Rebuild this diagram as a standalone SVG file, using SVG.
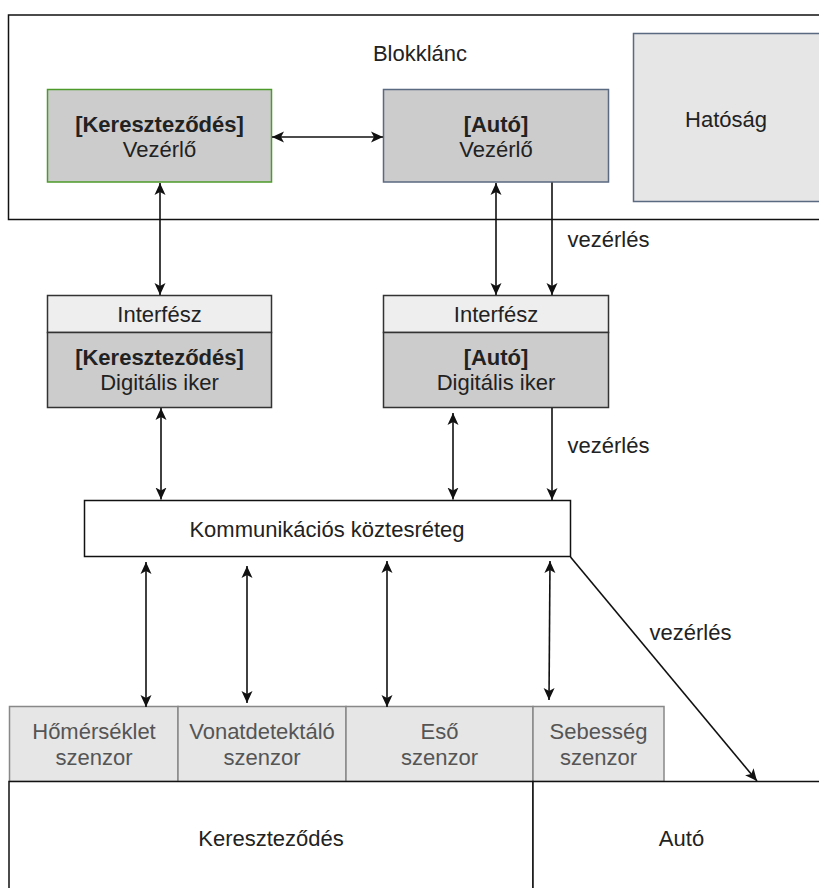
<svg xmlns="http://www.w3.org/2000/svg" width="819" height="888" viewBox="0 0 819 888">
  <style>
    text { font-family: "Liberation Sans", Arial, Helvetica, sans-serif; font-size: 22px; fill: #222222; text-anchor: middle; }
    .bold { font-weight: bold; }
    .sensor text { fill: #555555; }
    .frame { fill: #ffffff; stroke: #111111; stroke-width: 1.5; }
    .ctrl { fill: #cccccc; stroke-width: 1.5; }
    .iface { fill: #eeeeee; stroke: #333333; stroke-width: 1.5; }
    .twin { fill: #cccccc; stroke: #333333; stroke-width: 1.5; }
    .sensor rect { fill: #e6e6e6; stroke: #888888; stroke-width: 1.5; }
    .conn line { stroke: #111111; stroke-width: 1.6; fill: none; }
    .bi { marker-start: url(#arrow); marker-end: url(#arrow); }
    .uni { marker-end: url(#arrow); }
  </style>
  <defs>
    <marker id="arrow" viewBox="0 0 12 12" refX="12" refY="6" markerWidth="12" markerHeight="12" markerUnits="userSpaceOnUse" orient="auto-start-reverse">
      <path d="M0,0.5 L12,6 L0,11.5 L3,6 z" fill="#111111"/>
    </marker>
  </defs>

  <rect width="819" height="888" fill="#ffffff"/>

  <!-- blockchain layer -->
  <g id="blokklanc">
    <rect class="frame" x="8.5" y="15" width="830" height="204.5"/>
    <text x="420" y="61">Blokklánc</text>
  </g>

  <g id="kereszt-vezerlo">
    <rect class="ctrl" x="47.5" y="89.5" width="224" height="92.5" stroke="#4d9a2a"/>
    <text class="bold" x="159.5" y="132">[Kereszteződés]</text>
    <text x="159.5" y="157">Vezérlő</text>
  </g>

  <g id="auto-vezerlo">
    <rect class="ctrl" x="383.5" y="89.5" width="225" height="92.5" stroke="#5a6a80"/>
    <text class="bold" x="496" y="132">[Autó]</text>
    <text x="496" y="157">Vezérlő</text>
  </g>

  <g id="hatosag">
    <rect x="633.5" y="33.5" width="200" height="168" fill="#e6e6e6" stroke="#5a6a80" stroke-width="1.5"/>
    <text x="726" y="127">Hatóság</text>
  </g>

  <!-- digital twins -->
  <g id="kereszt-iker">
    <rect class="iface" x="47.5" y="295.5" width="224" height="37"/>
    <text x="159.5" y="321.5">Interfész</text>
    <rect class="twin" x="47.5" y="332.5" width="224" height="75"/>
    <text class="bold" x="159.5" y="365">[Kereszteződés]</text>
    <text x="159.5" y="390">Digitális iker</text>
  </g>

  <g id="auto-iker">
    <rect class="iface" x="383.5" y="295.5" width="225" height="37"/>
    <text x="496" y="321.5">Interfész</text>
    <rect class="twin" x="383.5" y="332.5" width="225" height="75"/>
    <text class="bold" x="496" y="365">[Autó]</text>
    <text x="496" y="390">Digitális iker</text>
  </g>

  <g id="kozteseteg">
    <rect x="84.5" y="500.5" width="486" height="56" fill="#ffffff" stroke="#111111" stroke-width="1.5"/>
    <text x="327" y="537">Kommunikációs köztesréteg</text>
  </g>

  <!-- sensors -->
  <g id="homerseklet" class="sensor">
    <rect x="9.5" y="706.5" width="168.5" height="75"/>
    <text x="94" y="739">Hőmérséklet</text>
    <text x="94" y="765">szenzor</text>
  </g>
  <g id="vonatdetektalo" class="sensor">
    <rect x="178" y="706.5" width="168" height="75"/>
    <text x="262" y="739">Vonatdetektáló</text>
    <text x="262" y="765">szenzor</text>
  </g>
  <g id="eso" class="sensor">
    <rect x="346" y="706.5" width="187" height="75"/>
    <text x="439.5" y="739">Eső</text>
    <text x="439.5" y="765">szenzor</text>
  </g>
  <g id="sebesseg" class="sensor">
    <rect x="533" y="706.5" width="131" height="75"/>
    <text x="598.5" y="739">Sebesség</text>
    <text x="598.5" y="765">szenzor</text>
  </g>

  <!-- physical layer -->
  <g id="keresztezodes">
    <rect class="frame" x="9" y="781.5" width="524" height="120"/>
    <text x="271" y="846">Kereszteződés</text>
  </g>
  <g id="auto">
    <rect class="frame" x="533" y="781.5" width="300" height="120"/>
    <text x="681.5" y="846">Autó</text>
  </g>

  <!-- connectors -->
  <g id="connectors" class="conn">
    <line class="bi" x1="272" y1="137" x2="383" y2="137"/>
    <line class="bi" x1="160" y1="183" x2="160" y2="295"/>
    <line class="bi" x1="496" y1="183" x2="496" y2="295"/>
    <line class="uni" x1="552" y1="182.5" x2="552" y2="295"/>
    <line class="bi" x1="161" y1="408" x2="161" y2="499.5"/>
    <line class="bi" x1="453" y1="413" x2="453" y2="499.5"/>
    <line class="uni" x1="552" y1="408" x2="552" y2="500"/>
    <line class="bi" x1="146" y1="562" x2="146" y2="707"/>
    <line class="bi" x1="247" y1="566" x2="247" y2="703"/>
    <line class="bi" x1="387" y1="561" x2="387" y2="707"/>
    <line class="bi" x1="550" y1="561" x2="549" y2="700"/>
    <line class="uni" x1="570.5" y1="557" x2="757" y2="781"/>
    <text x="608.5" y="247">vezérlés</text>
    <text x="608.5" y="453">vezérlés</text>
    <text x="690.5" y="640">vezérlés</text>
  </g>
</svg>
